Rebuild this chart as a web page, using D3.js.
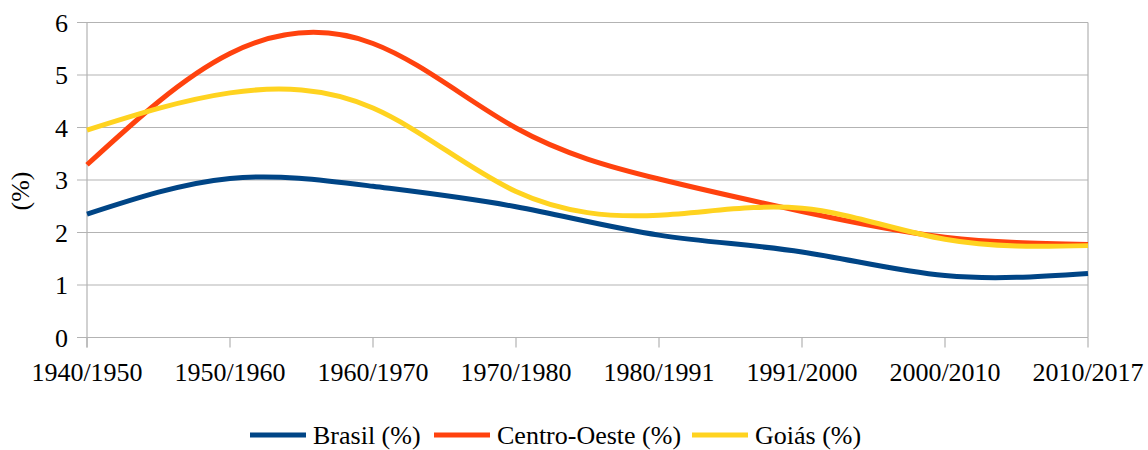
<!DOCTYPE html>
<html lang="en">
  <head>
    <meta charset="UTF-8" />
    <title>Taxa de crescimento</title>
    <style>
      body {
        margin: 0;
        background: #fff;
      }
    </style>
  </head>
  <body>
    <div id="chart"></div>
    <script src="https://cdnjs.cloudflare.com/ajax/libs/d3/7.8.5/d3.min.js"></script>
    <script>
      var categories = [
        "1940/1950",
        "1950/1960",
        "1960/1970",
        "1970/1980",
        "1980/1991",
        "1991/2000",
        "2000/2010",
        "2010/2017",
      ];
      var brasil = [2.35, 3.03, 2.88, 2.49, 1.95, 1.63, 1.18, 1.22];
      var centroOeste = [3.29, 5.41, 5.6, 3.99, 3.02, 2.4, 1.91, 1.77];
      var goias = [3.95, 4.66, 4.37, 2.78, 2.33, 2.46, 1.87, 1.75];
      var yTicks = [0, 1, 2, 3, 4, 5, 6];

      var series = [
        { name: "Brasil (%)", values: brasil, color: "#004586" },
        { name: "Centro-Oeste (%)", values: centroOeste, color: "#ff420e" },
        { name: "Goiás (%)", values: goias, color: "#ffd320" },
      ];

      var width = 1148,
        height = 450;
      var font = "'Liberation Serif'";
      var fontSize = "26px";

      var svg = d3
        .select("#chart")
        .append("svg")
        .attr("width", width)
        .attr("height", height);

      var x = d3.scalePoint().domain(categories).range([87, 1088]);
      var y = d3.scaleLinear().domain([0, 6]).range([337.5, 22.5]);

      var grid = "#b3b3b3";

      // horizontal grid lines + left ticks
      svg
        .selectAll(".grid")
        .data(yTicks)
        .enter()
        .append("line")
        .attr("x1", 77)
        .attr("x2", 1088)
        .attr("y1", (d) => y(d))
        .attr("y2", (d) => y(d))
        .attr("stroke", grid)
        .attr("stroke-width", 1.2);

      // left axis
      svg
        .append("line")
        .attr("x1", 87)
        .attr("x2", 87)
        .attr("y1", y(6))
        .attr("y2", y(0) + 10)
        .attr("stroke", grid)
        .attr("stroke-width", 1.2);

      // x ticks
      svg
        .selectAll(".xtick")
        .data(categories)
        .enter()
        .append("line")
        .attr("x1", (d) => x(d))
        .attr("x2", (d) => x(d))
        .attr("y1", y(0))
        .attr("y2", y(0) + 10)
        .attr("stroke", grid)
        .attr("stroke-width", 1.2);

      // right border
      svg
        .append("line")
        .attr("x1", 1088)
        .attr("x2", 1088)
        .attr("y1", y(6))
        .attr("y2", y(0))
        .attr("stroke", grid)
        .attr("stroke-width", 1.2);

      // y labels
      svg
        .selectAll(".ylab")
        .data(yTicks)
        .enter()
        .append("text")
        .attr("x", 68)
        .attr("y", (d) => y(d) + 9)
        .attr("text-anchor", "end")
        .style("font-family", font)
        .style("font-size", fontSize)
        .text((d) => d);

      // x labels
      svg
        .selectAll(".xlab")
        .data(categories)
        .enter()
        .append("text")
        .attr("x", (d) => x(d))
        .attr("y", 381)
        .attr("text-anchor", "middle")
        .style("font-family", font)
        .style("font-size", fontSize)
        .text((d) => d);

      // y title
      svg
        .append("text")
        .attr("transform", "translate(29,191) rotate(-90)")
        .attr("text-anchor", "middle")
        .style("font-family", font)
        .style("font-size", fontSize)
        .text("(%)");

      var line = d3
        .line()
        .x((d, i) => x(categories[i]))
        .y((d) => y(d))
        .curve(d3.curveNatural);

      svg
        .selectAll(".series")
        .data(series)
        .enter()
        .append("path")
        .attr("d", (d) => line(d.values))
        .attr("fill", "none")
        .attr("stroke", (d) => d.color)
        .attr("stroke-width", 5)
        .attr("stroke-linejoin", "round");

      // legend
      var legendX = [250, 434, 692];
      var lg = svg
        .selectAll(".legend")
        .data(series)
        .enter()
        .append("g")
        .attr("transform", (d, i) => "translate(" + legendX[i] + ",435)");

      lg.append("line")
        .attr("x1", 0)
        .attr("x2", 56)
        .attr("y1", 0)
        .attr("y2", 0)
        .attr("stroke", (d) => d.color)
        .attr("stroke-width", 5);

      lg.append("text")
        .attr("x", 63)
        .attr("y", 9)
        .style("font-family", font)
        .style("font-size", fontSize)
        .text((d) => d.name);
    </script>
  </body>
</html>
